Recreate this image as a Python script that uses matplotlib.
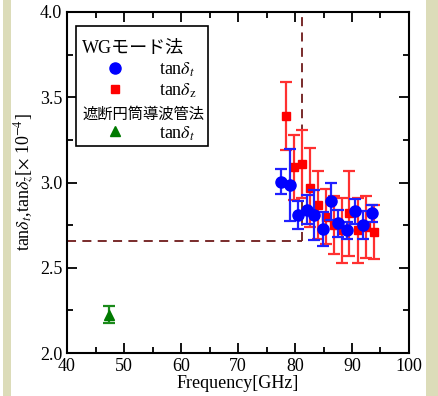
import matplotlib
matplotlib.use('Agg')
import matplotlib.pyplot as plt
from matplotlib.patches import Rectangle
from matplotlib.ticker import MultipleLocator

plt.rcParams['font.family'] = ['Liberation Serif', 'Noto Sans CJK JP']
plt.rcParams['mathtext.fontset'] = 'stix'

# WGモード法 tanδt (blue circles)
freq_t = [77.5, 79.1, 80.5, 82.05, 83.4, 84.85, 86.3, 87.6, 89.1, 90.5, 92.0, 93.45]
tan_t = [3.005, 2.985, 2.81, 2.84, 2.81, 2.727, 2.89, 2.76, 2.72, 2.83, 2.75, 2.82]
err_t = [0.075, 0.21, 0.08, 0.085, 0.145, 0.10, 0.11, 0.08, 0.05, 0.075, 0.08, 0.05]

# WGモード法 tanδz (red squares)
freq_z = [78.4, 79.9, 81.2, 82.6, 84.1, 85.5, 86.8, 88.2, 89.5, 91.0, 92.4, 93.8]
tan_z = [3.39, 3.09, 3.11, 2.97, 2.87, 2.80, 2.75, 2.72, 2.82, 2.72, 2.74, 2.71]
err_z = [0.20, 0.19, 0.20, 0.23, 0.20, 0.16, 0.17, 0.19, 0.25, 0.19, 0.18, 0.16]

# 遮断円筒導波管法 tanδt (green triangle)
freq_c = [47.4]
tan_c = [2.225]
err_c = [0.05]

# guide lines
guide_f = 81.3
guide_v = 2.657

fig = plt.figure(figsize=(4.39, 3.96), dpi=100)
fig.patch.set_facecolor('white')
# beige side strips
beige = '#dcdcb9'
fig.patches.append(Rectangle((3 / 439, 0), 8 / 439, 1, transform=fig.transFigure,
                             facecolor=beige, edgecolor='none', zorder=0))
fig.patches.append(Rectangle((426 / 439, 0), 13 / 439, 1, transform=fig.transFigure,
                             facecolor=beige, edgecolor='none', zorder=0))

ax = fig.add_axes([67 / 439, 43 / 396, 342 / 439, 341 / 396])

dash_col = '#6e1a1a'
ax.plot([40, guide_f], [guide_v, guide_v], color=dash_col, lw=1.3, dashes=(5, 3.5), zorder=1)
ax.plot([guide_f, guide_f], [guide_v, 4.0], color=dash_col, lw=1.3, dashes=(5, 3.5), zorder=1)

ax.errorbar(freq_z, tan_z, yerr=err_z, fmt='s', color='#ff0000', ecolor='#ff3030',
            ms=6, elinewidth=1.6, capsize=4.5, capthick=1.6, zorder=2)
ax.errorbar(freq_t, tan_t, yerr=err_t, fmt='o', color='#0000ff', ecolor='#2020ff',
            ms=8, elinewidth=1.6, capsize=4.5, capthick=1.6, zorder=3)
ax.errorbar(freq_c, tan_c, yerr=err_c, fmt='^', color='#007a00', ecolor='#1a8a1a',
            ms=7, elinewidth=1.6, capsize=4.5, capthick=1.6, zorder=3)

ax.set_xlim(40, 100)
ax.set_ylim(2.0, 4.0)
ax.xaxis.set_major_locator(MultipleLocator(10))
ax.xaxis.set_minor_locator(MultipleLocator(5))
ax.yaxis.set_major_locator(MultipleLocator(0.5))
ax.yaxis.set_minor_locator(MultipleLocator(0.25))
ax.yaxis.set_major_formatter(matplotlib.ticker.FormatStrFormatter('%.1f'))
ax.tick_params(which='both', direction='in', top=True, right=True, labelsize=13, width=1.3)
ax.tick_params(which='major', length=7)
ax.tick_params(which='minor', length=4)
for s in ax.spines.values():
    s.set_linewidth(1.5)

ax.set_xlabel('Frequency[GHz]', fontsize=13, labelpad=0)
ax.set_ylabel(r'tan$\delta_t$,tan$\delta_z$[$\times$ 10$^{-4}$]', fontsize=13, labelpad=2)

# legend drawn by hand (two groups with headers)
ax.add_patch(Rectangle((0.026, 0.607), 0.386, 0.352, transform=ax.transAxes,
                       facecolor='white', edgecolor='black', lw=1.2, zorder=5))
ax.text(0.045, 0.894, 'WGモード法', transform=ax.transAxes, fontsize=13,
        va='center', ha='left', zorder=6)
ax.plot([0.140], [0.837], 'o', color='#0000ff', ms=8, transform=ax.transAxes, zorder=6, clip_on=False)
ax.text(0.270, 0.830, r'tan$\delta_t$', transform=ax.transAxes, fontsize=13,
        va='center', ha='left', zorder=6)
ax.plot([0.140], [0.775], 's', color='#ff0000', ms=6, transform=ax.transAxes, zorder=6, clip_on=False)
ax.text(0.270, 0.768, r'tan$\delta_{\rm z}$', transform=ax.transAxes, fontsize=13,
        va='center', ha='left', zorder=6)
ax.text(0.045, 0.700, '遮断円筒導波管法', transform=ax.transAxes, fontsize=11,
        va='center', ha='left', zorder=6)
ax.plot([0.140], [0.651], '^', color='#007a00', ms=7, transform=ax.transAxes, zorder=6, clip_on=False)
ax.text(0.270, 0.644, r'tan$\delta_t$', transform=ax.transAxes, fontsize=13,
        va='center', ha='left', zorder=6)

fig.savefig('out.png', dpi=100)
